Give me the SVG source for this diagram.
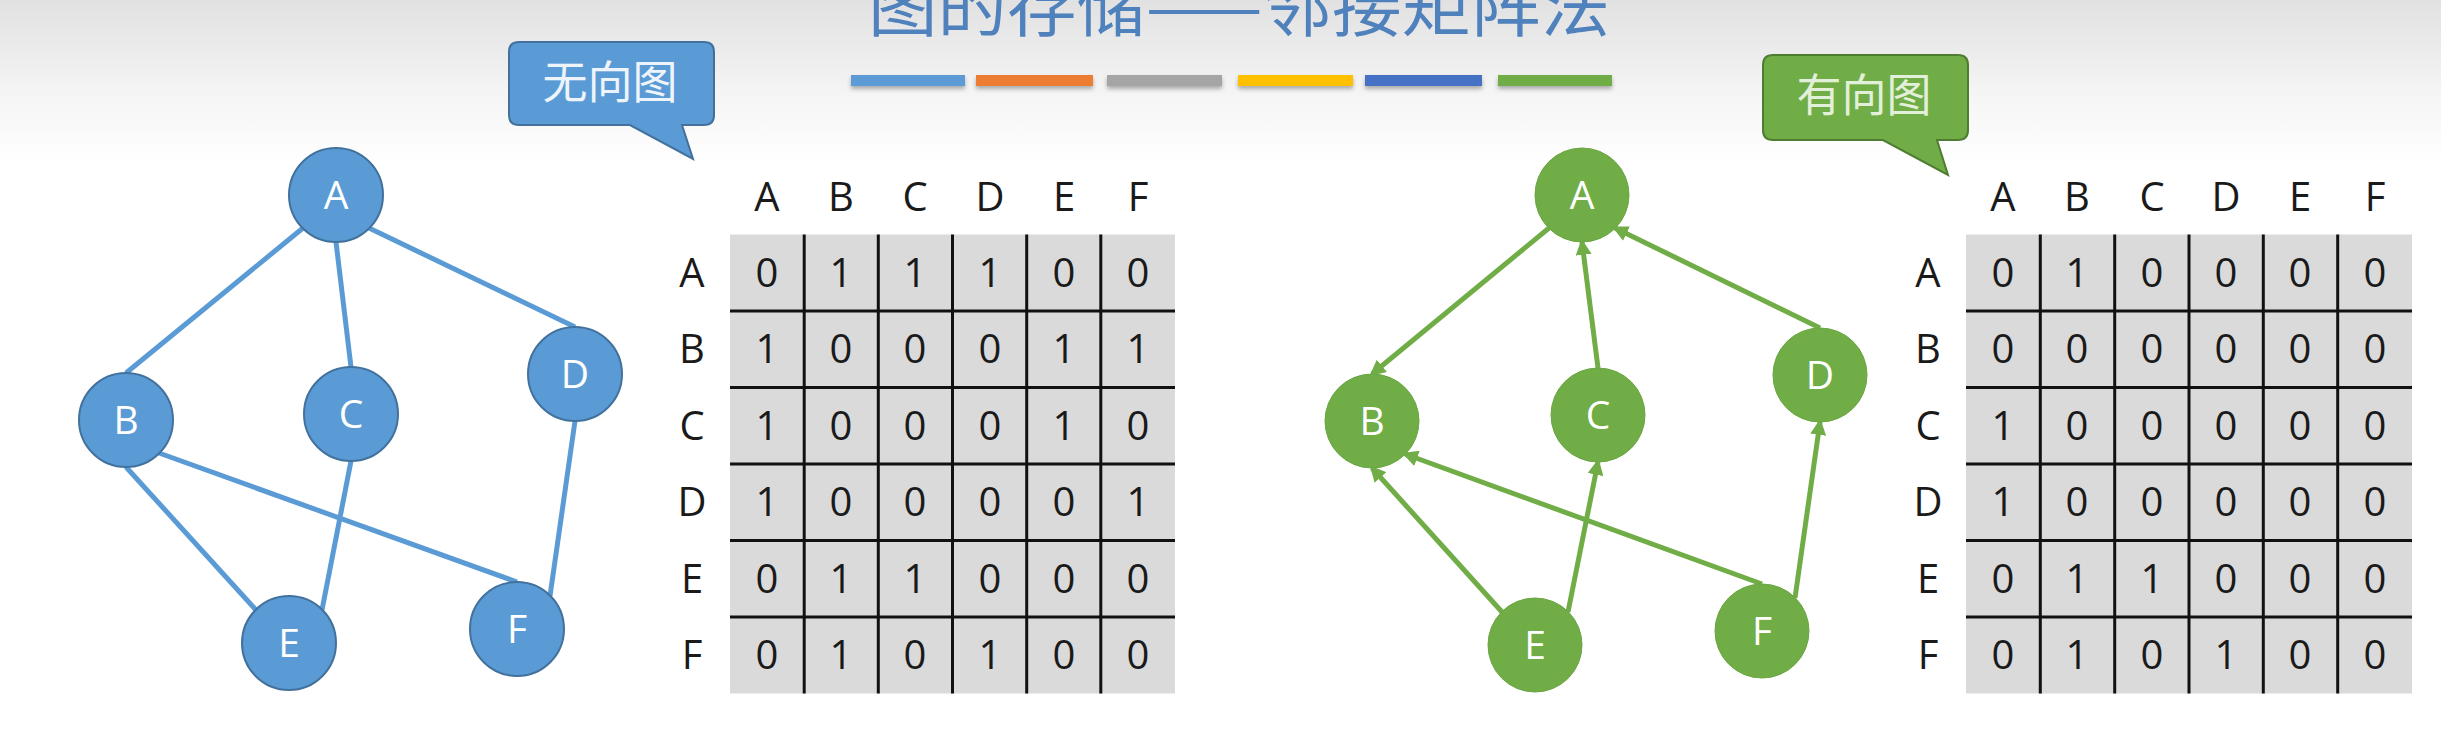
<svg xmlns="http://www.w3.org/2000/svg" width="2441" height="744" viewBox="0 0 2441 744">
<defs>
  <linearGradient id="bg" x1="0" y1="0" x2="0" y2="744" gradientUnits="userSpaceOnUse">
    <stop offset="0" stop-color="#e1e1e1"/>
    <stop offset="0.12" stop-color="#f4f4f4"/>
    <stop offset="0.22" stop-color="#ffffff"/>
    <stop offset="1" stop-color="#ffffff"/>
  </linearGradient>
  <filter id="sh" x="-10%" y="-50%" width="120%" height="250%">
    <feDropShadow dx="0" dy="3" stdDeviation="2" flood-color="#000" flood-opacity="0.3"/>
  </filter>
  <marker id="arr" viewBox="0 0 10 10" refX="8" refY="5" markerWidth="3.2" markerHeight="3.2" orient="auto">
    <path d="M0,0 L10,5 L0,10 z" fill="#70ad47"/>
  </marker>
  <style>
    .title{font-family:"Noto Sans CJK SC","Noto Sans",sans-serif;font-size:66px;fill:#4f81bd}
    .call{font-family:"Noto Sans CJK SC","Noto Sans",sans-serif;font-size:45px;text-anchor:middle}
    .bn circle{fill:#5b9bd5;stroke:#41719c;stroke-width:2}
    .gn circle{fill:#70ad47;stroke:#6aa642;stroke-width:1}
    .nl{font-family:"Open Sans","Noto Sans",sans-serif;font-size:39px;text-anchor:middle;fill:#ffffff}
    .be{stroke:#5b9bd5;stroke-width:5;fill:none}
    .ge{stroke:#70ad47;stroke-width:5;fill:none;marker-end:url(#arr)}
    .mt{font-family:"Open Sans","Noto Sans",sans-serif;font-size:40px;text-anchor:middle;fill:#1a1a1a}
    .grid{stroke:#111;stroke-width:3}
    .cell{fill:#dadada}
  </style>
</defs>
<rect x="0" y="0" width="2441" height="744" fill="url(#bg)"/>

<g id="title">
  <text class="title" x="868" y="31" textLength="742" lengthAdjust="spacingAndGlyphs">图的存储——邻接矩阵法</text>
</g>
<g id="bars" filter="url(#sh)">
  <rect x="851" y="75" width="114" height="11" fill="#5b9bd5"/>
  <rect x="976" y="75" width="117" height="11" fill="#ed7d31"/>
  <rect x="1107" y="75" width="115" height="11" fill="#a5a5a5"/>
  <rect x="1238" y="75" width="115" height="11" fill="#ffc000"/>
  <rect x="1365" y="75" width="117" height="11" fill="#4472c4"/>
  <rect x="1498" y="75" width="114" height="11" fill="#70ad47"/>
</g>

<g id="callout-undirected">
  <path d="M519,42 H704 Q714,42 714,52 V115 Q714,125 704,125 H682 L693,159 L630,125 H519 Q509,125 509,115 V52 Q509,42 519,42 Z" fill="#5b9bd5" stroke="#41719c" stroke-width="2"/>
  <text class="call" x="610" y="99" fill="#eef4fb">无向图</text>
</g>
<g id="callout-directed">
  <path d="M1773,55 H1958 Q1968,55 1968,65 V130 Q1968,140 1958,140 H1937 L1948,175 L1883,140 H1773 Q1763,140 1763,130 V65 Q1763,55 1773,55 Z" fill="#70ad47" stroke="#4e7d32" stroke-width="2"/>
  <text class="call" x="1864" y="112" fill="#e2f0d9">有向图</text>
</g>

<g id="edges-undirected">
  <line class="be" x1="303" y1="228" x2="126" y2="373"/>
  <line class="be" x1="336" y1="242" x2="351" y2="367"/>
  <line class="be" x1="369" y1="228" x2="575" y2="327"/>
  <line class="be" x1="126" y1="467" x2="256" y2="610"/>
  <line class="be" x1="159" y1="453" x2="517" y2="582"/>
  <line class="be" x1="351" y1="461" x2="322" y2="610"/>
  <line class="be" x1="575" y1="421" x2="550" y2="596"/>
</g>
<g id="u-A" class="bn"><circle cx="336" cy="195" r="47"/><text class="nl" x="336" y="209">A</text></g>
<g id="u-B" class="bn"><circle cx="126" cy="420" r="47"/><text class="nl" x="126" y="434">B</text></g>
<g id="u-C" class="bn"><circle cx="351" cy="414" r="47"/><text class="nl" x="351" y="428">C</text></g>
<g id="u-D" class="bn"><circle cx="575" cy="374" r="47"/><text class="nl" x="575" y="388">D</text></g>
<g id="u-E" class="bn"><circle cx="289" cy="643" r="47"/><text class="nl" x="289" y="657">E</text></g>
<g id="u-F" class="bn"><circle cx="517" cy="629" r="47"/><text class="nl" x="517" y="643">F</text></g>

<g id="edges-directed">
  <line class="ge" x1="1549" y1="228" x2="1372" y2="374"/>
  <line class="ge" x1="1598" y1="368" x2="1582" y2="242"/>
  <line class="ge" x1="1820" y1="328" x2="1615" y2="228"/>
  <line class="ge" x1="1502" y1="612" x2="1372" y2="468"/>
  <line class="ge" x1="1762" y1="584" x2="1405" y2="454"/>
  <line class="ge" x1="1568" y1="612" x2="1598" y2="462"/>
  <line class="ge" x1="1795" y1="598" x2="1820" y2="422"/>
</g>
<g id="d-A" class="gn"><circle cx="1582" cy="195" r="47"/><text class="nl" x="1582" y="209">A</text></g>
<g id="d-B" class="gn"><circle cx="1372" cy="421" r="47"/><text class="nl" x="1372" y="435">B</text></g>
<g id="d-C" class="gn"><circle cx="1598" cy="415" r="47"/><text class="nl" x="1598" y="429">C</text></g>
<g id="d-D" class="gn"><circle cx="1820" cy="375" r="47"/><text class="nl" x="1820" y="389">D</text></g>
<g id="d-E" class="gn"><circle cx="1535" cy="645" r="47"/><text class="nl" x="1535" y="659">E</text></g>
<g id="d-F" class="gn"><circle cx="1762" cy="631" r="47"/><text class="nl" x="1762" y="645">F</text></g>

<g id="matrix-undirected">
  <rect class="cell" x="730" y="234.5" width="445" height="459"/>
  <g class="grid">
    <line x1="804.2" y1="234.5" x2="804.2" y2="693.5"/>
    <line x1="878.3" y1="234.5" x2="878.3" y2="693.5"/>
    <line x1="952.5" y1="234.5" x2="952.5" y2="693.5"/>
    <line x1="1026.7" y1="234.5" x2="1026.7" y2="693.5"/>
    <line x1="1100.8" y1="234.5" x2="1100.8" y2="693.5"/>
    <line x1="730" y1="311" x2="1175" y2="311"/>
    <line x1="730" y1="387.5" x2="1175" y2="387.5"/>
    <line x1="730" y1="464" x2="1175" y2="464"/>
    <line x1="730" y1="540.5" x2="1175" y2="540.5"/>
    <line x1="730" y1="617" x2="1175" y2="617"/>
  </g>
  <g class="mt">
    <text x="767" y="211">A</text><text x="841" y="211">B</text><text x="915" y="211">C</text><text x="990" y="211">D</text><text x="1064" y="211">E</text><text x="1138" y="211">F</text>
    <text x="692" y="287">A</text><text x="692" y="363">B</text><text x="692" y="440">C</text><text x="692" y="516">D</text><text x="692" y="593">E</text><text x="692" y="669">F</text>
    <text x="767" y="287">0</text><text x="841" y="287">1</text><text x="915" y="287">1</text><text x="990" y="287">1</text><text x="1064" y="287">0</text><text x="1138" y="287">0</text>
    <text x="767" y="363">1</text><text x="841" y="363">0</text><text x="915" y="363">0</text><text x="990" y="363">0</text><text x="1064" y="363">1</text><text x="1138" y="363">1</text>
    <text x="767" y="440">1</text><text x="841" y="440">0</text><text x="915" y="440">0</text><text x="990" y="440">0</text><text x="1064" y="440">1</text><text x="1138" y="440">0</text>
    <text x="767" y="516">1</text><text x="841" y="516">0</text><text x="915" y="516">0</text><text x="990" y="516">0</text><text x="1064" y="516">0</text><text x="1138" y="516">1</text>
    <text x="767" y="593">0</text><text x="841" y="593">1</text><text x="915" y="593">1</text><text x="990" y="593">0</text><text x="1064" y="593">0</text><text x="1138" y="593">0</text>
    <text x="767" y="669">0</text><text x="841" y="669">1</text><text x="915" y="669">0</text><text x="990" y="669">1</text><text x="1064" y="669">0</text><text x="1138" y="669">0</text>
  </g>
</g>

<g id="matrix-directed">
  <rect class="cell" x="1966" y="234.5" width="446" height="459"/>
  <g class="grid">
    <line x1="2040.3" y1="234.5" x2="2040.3" y2="693.5"/>
    <line x1="2114.7" y1="234.5" x2="2114.7" y2="693.5"/>
    <line x1="2189" y1="234.5" x2="2189" y2="693.5"/>
    <line x1="2263.3" y1="234.5" x2="2263.3" y2="693.5"/>
    <line x1="2337.7" y1="234.5" x2="2337.7" y2="693.5"/>
    <line x1="1966" y1="311" x2="2412" y2="311"/>
    <line x1="1966" y1="387.5" x2="2412" y2="387.5"/>
    <line x1="1966" y1="464" x2="2412" y2="464"/>
    <line x1="1966" y1="540.5" x2="2412" y2="540.5"/>
    <line x1="1966" y1="617" x2="2412" y2="617"/>
  </g>
  <g class="mt">
    <text x="2003" y="211">A</text><text x="2077" y="211">B</text><text x="2152" y="211">C</text><text x="2226" y="211">D</text><text x="2300" y="211">E</text><text x="2375" y="211">F</text>
    <text x="1928" y="287">A</text><text x="1928" y="363">B</text><text x="1928" y="440">C</text><text x="1928" y="516">D</text><text x="1928" y="593">E</text><text x="1928" y="669">F</text>
    <text x="2003" y="287">0</text><text x="2077" y="287">1</text><text x="2152" y="287">0</text><text x="2226" y="287">0</text><text x="2300" y="287">0</text><text x="2375" y="287">0</text>
    <text x="2003" y="363">0</text><text x="2077" y="363">0</text><text x="2152" y="363">0</text><text x="2226" y="363">0</text><text x="2300" y="363">0</text><text x="2375" y="363">0</text>
    <text x="2003" y="440">1</text><text x="2077" y="440">0</text><text x="2152" y="440">0</text><text x="2226" y="440">0</text><text x="2300" y="440">0</text><text x="2375" y="440">0</text>
    <text x="2003" y="516">1</text><text x="2077" y="516">0</text><text x="2152" y="516">0</text><text x="2226" y="516">0</text><text x="2300" y="516">0</text><text x="2375" y="516">0</text>
    <text x="2003" y="593">0</text><text x="2077" y="593">1</text><text x="2152" y="593">1</text><text x="2226" y="593">0</text><text x="2300" y="593">0</text><text x="2375" y="593">0</text>
    <text x="2003" y="669">0</text><text x="2077" y="669">1</text><text x="2152" y="669">0</text><text x="2226" y="669">1</text><text x="2300" y="669">0</text><text x="2375" y="669">0</text>
  </g>
</g>
</svg>
